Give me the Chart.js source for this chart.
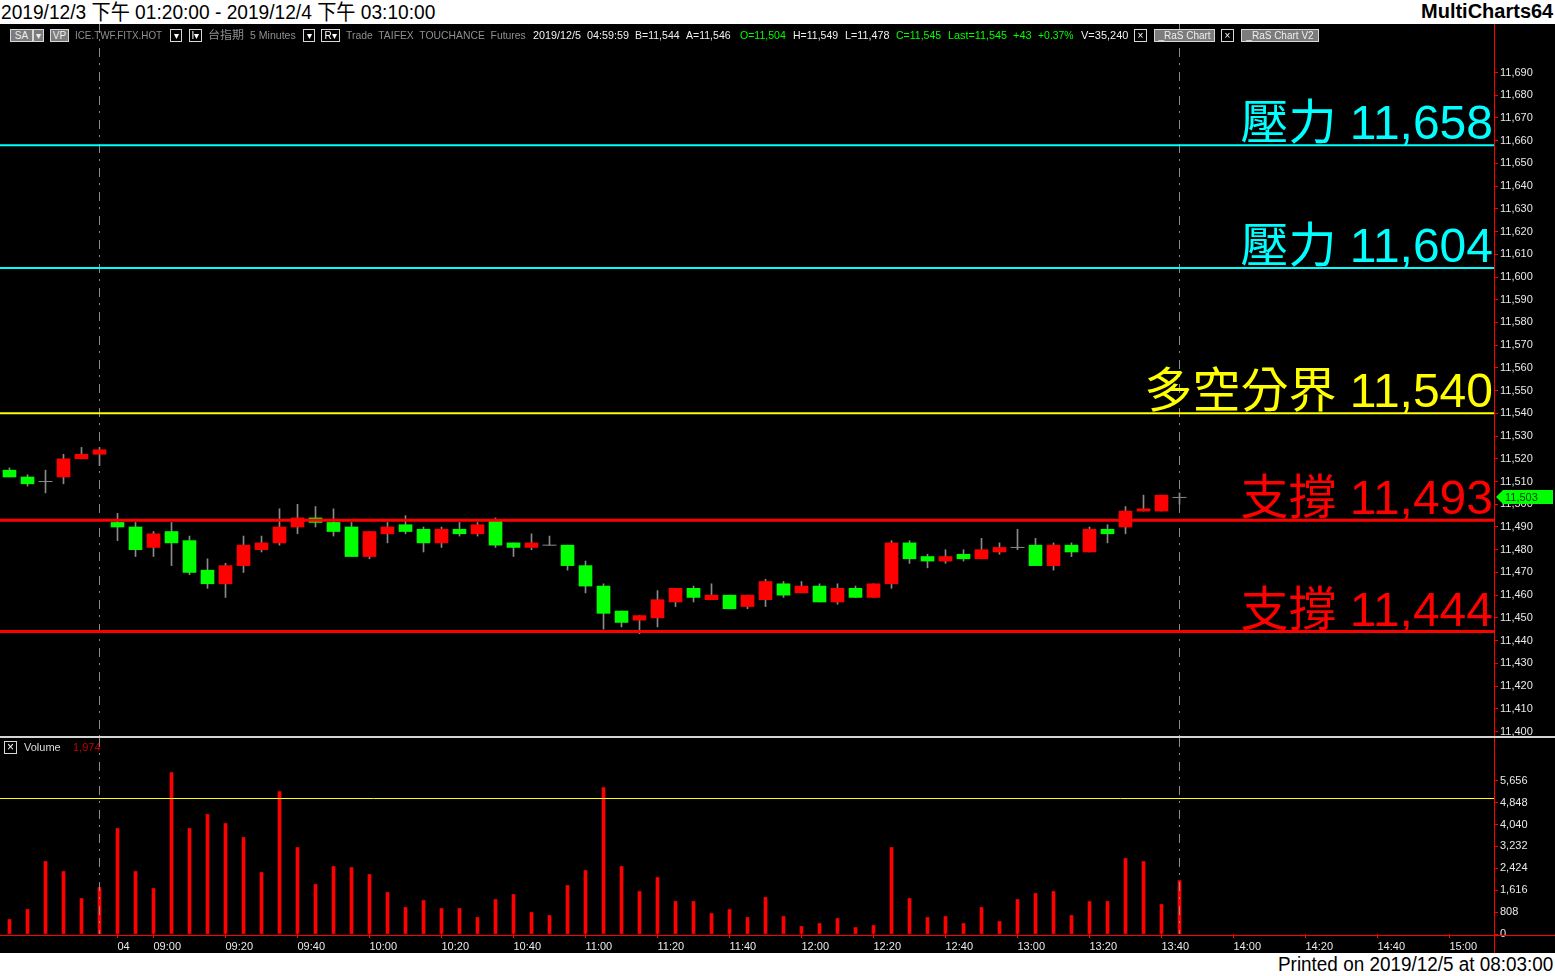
<!DOCTYPE html>
<html>
<head>
<meta charset="utf-8">
<title>台指期 5 Minutes</title>
<script src="https://cdn.jsdelivr.net/npm/chart.js@4.4.0/dist/chart.umd.min.js"></script>
<style>
  body { margin:0; width:1555px; height:976px; background:#000; position:relative; overflow:hidden;
         font-family:"Liberation Sans","Noto Sans CJK TC",sans-serif; }
  .abs { position:absolute; white-space:nowrap; }
  .fit { transform-origin:0 0; }
  #titleBar { left:0; top:0; width:1555px; height:24px; background:#fff; }
  #footBar { left:0; top:953px; width:1555px; height:23px; background:#fff; }
  .hd { top:29px; height:13px; line-height:13px; font-size:11px; }
  .gry { color:#8f8f8f; }
  .wht { color:#f0f0f0; }
  .grn { color:#00ff00; }
  .box { border:1px solid #d8d8d8; box-sizing:border-box; text-align:center; color:#fff; font-size:10px; line-height:11px; }
  .gbox { background:#7c7c7c; color:#eeeeee; }
  canvas { position:absolute; left:0; }
</style>
</head>
<body>
<div id="titleBar" class="abs">
  <span class="abs fit" data-w="434" style="left:1px;top:0;font-size:21px;line-height:23px;color:#000">2019/12/3 下午 01:20:00 - 2019/12/4 下午 03:10:00</span>
  <span class="abs fit" data-w="132" style="left:1421px;top:0;font-size:20px;line-height:23px;font-weight:bold;color:#000">MultiCharts64</span>
</div>

<canvas id="priceChart" width="1555" height="712" style="top:24px"></canvas>
<canvas id="volChart" width="1555" height="215" style="top:738px"></canvas>
<div class="abs" style="left:0;top:736px;width:1555px;height:2px;background:#d4d4d4"></div>

<!-- toolbar row -->
<div class="abs box gbox hd" style="left:10px;width:23px">SA</div>
<div class="abs box gbox hd" style="left:33px;width:11px">▾</div>
<div class="abs box gbox hd" style="left:50px;width:19px">VP</div>
<span class="abs hd gry fit" data-w="87" style="left:75px">ICE.TWF.FITX.HOT</span>
<div class="abs box hd" style="left:170px;width:12px">▾</div>
<div class="abs box hd" style="left:189px;width:13px">I▾</div>
<span class="abs hd gry fit" data-w="36" style="left:208px">台指期</span>
<span class="abs hd gry fit" data-w="46" style="left:250px">5 Minutes</span>
<div class="abs box hd" style="left:303px;width:12px">▾</div>
<div class="abs box hd" style="left:321px;width:19px">R▾</div>
<span class="abs hd gry fit" data-w="180" style="left:346px">Trade&nbsp; TAIFEX&nbsp; TOUCHANCE&nbsp; Futures</span>
<span class="abs hd wht fit" data-w="96" style="left:533px">2019/12/5&nbsp; 04:59:59</span>
<span class="abs hd wht fit" data-w="45" style="left:635px">B=11,544</span>
<span class="abs hd wht fit" data-w="45" style="left:686px">A=11,546</span>
<span class="abs hd grn fit" data-w="46" style="left:740px">O=11,504</span>
<span class="abs hd wht fit" data-w="45" style="left:793px">H=11,549</span>
<span class="abs hd wht fit" data-w="44" style="left:845px">L=11,478</span>
<span class="abs hd grn fit" data-w="45" style="left:896px">C=11,545</span>
<span class="abs hd grn fit" data-w="59" style="left:948px">Last=11,545</span>
<span class="abs hd grn fit" data-w="19" style="left:1013px">+43</span>
<span class="abs hd grn fit" data-w="36" style="left:1038px">+0.37%</span>
<span class="abs hd wht fit" data-w="47" style="left:1081px">V=35,240</span>
<div class="abs box hd" style="left:1134px;width:13px">×</div>
<div class="abs box gbox hd" style="left:1154px;width:61px">_RaS Chart</div>
<div class="abs box hd" style="left:1221px;width:13px">×</div>
<div class="abs box gbox hd" style="left:1241px;width:78px">_RaS Chart V2</div>

<!-- volume pane caption -->
<div class="abs box" style="left:4px;top:741px;width:13px;height:13px;font-size:12px">×</div>
<span class="abs" style="left:24px;top:741px;font-size:11px;line-height:13px;color:#dcdcdc">Volume</span>
<span id="lastVol" class="abs" style="left:73px;top:741px;font-size:11px;line-height:13px;color:#c00000"></span>

<div id="footBar" class="abs">
  <span class="abs fit" data-w="275" style="left:1278px;top:0;font-size:20px;line-height:22px;color:#000">Printed on 2019/12/5 at 08:03:00</span>
</div>

<script>
// 5 minute bars: 12/3 13:20-13:45, then 12/4 08:50-13:45
var opens  = [11515, 11512, 11510, 11512, 11520, 11522,
              11492, 11490, 11481, 11488, 11484, 11471, 11465, 11473, 11480, 11483, 11490, 11494, 11492, 11490, 11477, 11487,
              11491, 11489, 11483, 11489, 11487, 11493, 11483, 11481, 11482, 11482, 11473, 11464, 11453, 11449, 11450, 11457,
              11463, 11458, 11460, 11455, 11458, 11465, 11461, 11464, 11457, 11463, 11459, 11465, 11483, 11477, 11475, 11478,
              11476, 11479, 11481, 11482, 11473, 11482, 11479, 11489, 11490, 11497, 11497, 11503];
var highs  = [11516, 11513, 11515, 11522, 11525, 11525,
              11496, 11492, 11488, 11492, 11486, 11476, 11474, 11486, 11486, 11498, 11500, 11499, 11498, 11492, 11488, 11492,
              11495, 11490, 11490, 11492, 11492, 11494, 11483, 11487, 11486, 11482, 11475, 11465, 11453, 11451, 11462, 11463,
              11464, 11465, 11460, 11460, 11467, 11466, 11466, 11465, 11465, 11464, 11465, 11484, 11484, 11478, 11480, 11480,
              11485, 11483, 11489, 11485, 11483, 11483, 11490, 11491, 11499, 11504, 11504, 11505];
var lows   = [11512, 11508, 11505, 11509, 11520, 11517,
              11484, 11477, 11477, 11473, 11469, 11463, 11459, 11470, 11479, 11482, 11487, 11490, 11486, 11477, 11476, 11483,
              11487, 11479, 11481, 11486, 11486, 11481, 11477, 11480, 11482, 11471, 11461, 11445, 11446, 11443, 11446, 11455,
              11457, 11458, 11454, 11454, 11455, 11459, 11461, 11457, 11456, 11459, 11459, 11463, 11474, 11472, 11474, 11475,
              11476, 11478, 11480, 11473, 11471, 11477, 11479, 11483, 11487, 11497, 11497, 11500];
var closes = [11512, 11509, 11510, 11520, 11522, 11524,
              11490, 11480, 11487, 11483, 11470, 11465, 11473, 11482, 11483, 11490, 11494, 11492, 11488, 11477, 11488, 11490,
              11488, 11483, 11489, 11487, 11491, 11482, 11481, 11483, 11482, 11473, 11464, 11452, 11448, 11451, 11458, 11463,
              11459, 11460, 11454, 11460, 11466, 11460, 11464, 11457, 11463, 11459, 11465, 11483, 11476, 11475, 11477, 11476,
              11480, 11481, 11481, 11473, 11482, 11479, 11489, 11487, 11497, 11498, 11504, 11503];
var volumes = [535, 904, 2675, 2306, 1310, 1716,
               3893, 2306, 1679, 5959, 3893, 4410, 4077, 3561, 2269, 5258, 3192, 1827, 2491, 2454, 2196, 1531,
               978, 1236, 941, 941, 609, 1273, 1458, 793, 683, 1790, 2343, 5406, 2491, 1568, 2085, 1199,
               1199, 756, 904, 609, 1347, 646, 277, 387, 572, 240, 314, 3192, 1310, 609, 646, 387,
               978, 461, 1273, 1494, 1568, 683, 1199, 1199, 2786, 2675, 1089, 1974];

// time axis: 83 slots (13:20 12/3 ... 15:10 12/4), labelled slots only
var slotCount = 83;
var xTickPos  = [6, 8, 12, 16, 20, 24, 28, 32, 36, 40, 44, 48, 52, 56, 60, 64, 68, 72, 76, 80];
var xTickText = ['04', '09:00', '09:20', '09:40', '10:00', '10:20', '10:40', '11:00', '11:20', '11:40',
                 '12:00', '12:20', '12:40', '13:00', '13:20', '13:40', '14:00', '14:20', '14:40', '15:00'];
var sessionBreaks = [5, 65];

var priceTicks = [11400, 11410, 11420, 11430, 11440, 11450, 11460, 11470, 11480, 11490, 11500, 11510, 11520, 11530, 11540,
                  11550, 11560, 11570, 11580, 11590, 11600, 11610, 11620, 11630, 11640, 11650, 11660, 11670, 11680, 11690];
var volTicks = [0, 808, 1616, 2424, 3232, 4040, 4848, 5656];

var levelValues = [11658, 11604, 11540, 11493, 11444];
var levelNames  = ['壓力', '壓力', '多空分界', '支撐', '支撐'];
var volLevel = 5000;

// styles
var levelColors = ['#00ffff', '#00ffff', '#ffff00', '#ff0000', '#ff0000'];
var levelWidths = [2, 2, 2, 3, 3];
var UP = '#ff0000', DOWN = '#00ff00', WICK = '#8a8a8a';
var AXIS_FONT = { family: 'Liberation Sans', size: 11 };
var X_MIN = -0.5 - 0.5 / 18, X_MAX = X_MIN + slotCount;

document.getElementById('lastVol').textContent = volumes[volumes.length - 1].toLocaleString('en-US');

// build candle pieces
var bodyData = [], bodyColors = [], wickData = [], dojiData = [];
for (var i = 0; i < opens.length; i++) {
    wickData.push({ x: i, y: [lows[i], highs[i]] });
    if (opens[i] === closes[i]) {
        dojiData.push({ x: i, y: opens[i] });
    } else {
        bodyData.push({ x: i, y: [opens[i], closes[i]] });
        bodyColors.push(closes[i] > opens[i] ? UP : DOWN);
    }
}

function fixWidth(w) {
    return function (s) { s.width = w; s.paddingTop = 0; s.paddingBottom = 0; };
}

function drawBreaks(chart) {
    var ctx = chart.ctx, xs = chart.scales.x;
    ctx.save();
    ctx.strokeStyle = '#8a8a8a';
    ctx.lineWidth = 1;
    ctx.setLineDash([9, 6, 2, 7]);
    sessionBreaks.forEach(function (b) {
        var px = xs.getPixelForValue(b);
        ctx.beginPath();
        ctx.moveTo(px, 0);
        ctx.lineTo(px, chart.chartArea.bottom);
        ctx.stroke();
    });
    ctx.restore();
}

function drawAxisLine(chart) {
    var ctx = chart.ctx, r = chart.chartArea.right + 0.5;
    ctx.save();
    ctx.strokeStyle = '#ff0000';
    ctx.lineWidth = 1;
    ctx.beginPath();
    ctx.moveTo(r, 0);
    ctx.lineTo(r, chart.height);
    ctx.stroke();
    ctx.restore();
}

var pricePlugin = {
    id: 'priceLevels',
    afterDatasetsDraw: function (chart) {
        var ctx = chart.ctx, area = chart.chartArea, ys = chart.scales.y;
        drawBreaks(chart);
        ctx.save();
        levelValues.forEach(function (v, k) {
            var y = ys.getPixelForValue(v);
            ctx.strokeStyle = levelColors[k];
            ctx.lineWidth = levelWidths[k];
            ctx.beginPath();
            ctx.moveTo(0, y);
            ctx.lineTo(area.right, y);
            ctx.stroke();
            ctx.font = '48px "Liberation Sans", "Noto Sans CJK TC", sans-serif';
            ctx.fillStyle = levelColors[k];
            ctx.textAlign = 'right';
            ctx.textBaseline = 'alphabetic';
            ctx.fillText(levelNames[k] + ' ' + v.toLocaleString('en-US'), area.right - 1, y - 6);
        });
        ctx.restore();
    },
    afterDraw: function (chart) {
        var ctx = chart.ctx, area = chart.chartArea, ys = chart.scales.y;
        drawAxisLine(chart);
        // last price marker
        var last = closes[closes.length - 1];
        var y = Math.round(ys.getPixelForValue(last));
        var x0 = area.right + 2;
        ctx.save();
        ctx.fillStyle = '#00ff00';
        ctx.beginPath();
        ctx.moveTo(x0, y);
        ctx.lineTo(x0 + 7, y - 7);
        ctx.lineTo(chart.width - 2, y - 7);
        ctx.lineTo(chart.width - 2, y + 7);
        ctx.lineTo(x0 + 7, y + 7);
        ctx.closePath();
        ctx.fill();
        ctx.fillStyle = '#003a00';
        ctx.font = '11px "Liberation Sans"';
        ctx.textAlign = 'left';
        ctx.textBaseline = 'middle';
        ctx.fillText(last.toLocaleString('en-US'), x0 + 9, y + 1);
        ctx.restore();
    }
};

var volPlugin = {
    id: 'volExtras',
    afterDatasetsDraw: function (chart) {
        var ctx = chart.ctx, area = chart.chartArea;
        var y = chart.scales.y.getPixelForValue(volLevel);
        ctx.save();
        ctx.strokeStyle = '#ffff00';
        ctx.lineWidth = 1;
        ctx.beginPath();
        ctx.moveTo(0, y);
        ctx.lineTo(area.right, y);
        ctx.stroke();
        ctx.restore();
        drawBreaks(chart);
    },
    afterDraw: function (chart) {
        var ctx = chart.ctx, b = chart.chartArea.bottom + 1.5;
        drawAxisLine(chart);
        ctx.save();
        ctx.strokeStyle = '#ff0000';
        ctx.lineWidth = 1;
        ctx.beginPath();
        ctx.moveTo(0, b);
        ctx.lineTo(chart.width, b);
        ctx.stroke();
        ctx.restore();
    }
};

// price pane
var priceChart = new Chart(document.getElementById('priceChart').getContext('2d'), {
    type: 'bar',
    data: {
        datasets: [{
            data: bodyData,
            backgroundColor: bodyColors,
            barThickness: 13,
            grouped: false,
            order: 1
        }, {
            data: wickData,
            backgroundColor: WICK,
            barThickness: 1,
            grouped: false,
            order: 2
        }, {
            type: 'line',
            data: dojiData,
            showLine: false,
            pointStyle: 'line',
            pointRadius: 7,
            pointBorderColor: WICK,
            pointBorderWidth: 1,
            order: 0
        }]
    },
    options: {
        responsive: false,
        animation: false,
        devicePixelRatio: 1,
        layout: { autoPadding: false, padding: { top: 22, left: 0, right: 0, bottom: 0 } },
        plugins: { legend: { display: false }, tooltip: { enabled: false } },
        scales: {
            x: { type: 'linear', min: X_MIN, max: X_MAX, offset: false, display: false },
            y: {
                position: 'right',
                min: 11398.02,
                max: 11701.66,
                afterFit: fixWidth(61),
                afterBuildTicks: function (s) { s.ticks = priceTicks.map(function (v) { return { value: v }; }); },
                grid: { drawOnChartArea: false, color: '#ff0000', tickLength: 4 },
                border: { display: false },
                ticks: {
                    color: '#e8e8e8', font: AXIS_FONT, padding: 2,
                    callback: function (v) { return v.toLocaleString('en-US'); }
                }
            }
        }
    },
    plugins: [pricePlugin]
});

// volume pane
var volChart = new Chart(document.getElementById('volChart').getContext('2d'), {
    type: 'bar',
    data: {
        datasets: [{
            data: volumes.map(function (v, k) { return { x: k, y: v }; }),
            backgroundColor: '#ff0000',
            barThickness: 3
        }]
    },
    options: {
        responsive: false,
        animation: false,
        devicePixelRatio: 1,
        layout: { autoPadding: false, padding: { top: 2, left: 0, right: 0, bottom: 0 } },
        plugins: { legend: { display: false }, tooltip: { enabled: false } },
        scales: {
            x: {
                type: 'linear', min: X_MIN, max: X_MAX, offset: false,
                afterFit: function (s) { s.height = 19; s.paddingLeft = 0; s.paddingRight = 0; },
                afterBuildTicks: function (s) { s.ticks = xTickPos.map(function (v) { return { value: v }; }); },
                grid: { drawOnChartArea: false, offset: false, color: '#ff0000', tickLength: 4 },
                border: { display: false },
                ticks: {
                    color: '#e8e8e8', font: AXIS_FONT, padding: 2, align: 'start',
                    autoSkip: false, maxRotation: 0, minRotation: 0,
                    callback: function (v) { var k = xTickPos.indexOf(v); return k < 0 ? null : xTickText[k]; }
                }
            },
            y: {
                position: 'right',
                min: 0,
                max: 7159,
                afterFit: fixWidth(61),
                afterBuildTicks: function (s) { s.ticks = volTicks.map(function (v) { return { value: v }; }); },
                grid: { drawOnChartArea: false, color: '#ff0000', tickLength: 4 },
                border: { display: false },
                ticks: {
                    color: '#e8e8e8', font: AXIS_FONT, padding: 2,
                    callback: function (v) { return v.toLocaleString('en-US'); }
                }
            }
        }
    },
    plugins: [volPlugin]
});

// squeeze the narrow header texts to their widths
document.querySelectorAll('.fit').forEach(function (el) {
    var w = parseFloat(el.getAttribute('data-w'));
    el.style.transform = 'scaleX(' + (w / el.offsetWidth) + ')';
});
</script>
</body>
</html>
